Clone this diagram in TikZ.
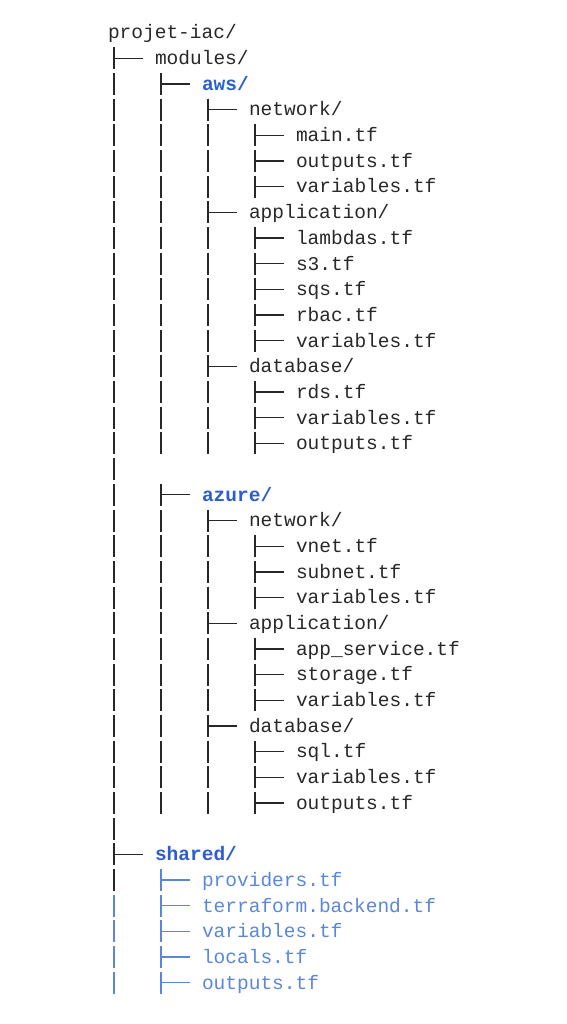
\documentclass[tikz,border=0pt]{standalone}
\usepackage{fontspec}
\setmonofont{Liberation Mono}
\usetikzlibrary{calc}
\definecolor{ink}{RGB}{40,40,40}
\definecolor{dirblue}{RGB}{44,94,205}
\definecolor{fileblue}{RGB}{90,135,218}
\tikzset{
entry/.style={anchor=west, inner sep=0pt, outer sep=0pt, text height=13pt,
	text depth=0.4pt, text=ink, font=\fontsize{19.5pt}{25.68pt}\ttfamily\selectfont},
topdir/.style={entry, text=dirblue,
	font=\fontsize{19.5pt}{25.68pt}\ttfamily\bfseries\selectfont},
sharedfile/.style={entry, text=fileblue},
bar/.style={draw=ink, line width=1.3pt}
}
\newcommand{\treebranch}[3][ink]{%
	\draw[bar, draw=#1] ([xshift=-41pt]#2.west) -- ([xshift=-11.7pt]#2.west);
	\draw[bar, draw=#1, dash pattern=on 22pt off 3.68pt]
		($(#2.west)+(-41pt,11pt)$) -- ($(#2.west |- #3)+(-41pt,-11pt)$);}

\begin{document}
\begin{tikzpicture}[x=1pt, y=-25.68pt]
	\useasboundingbox (0pt,0pt) rectangle (566pt,-1024pt);
	\begin{scope}[yshift=-32.6pt]
	\node[entry] (root) at (108.0,0) {projet-iac/};
	\node[entry] (mods) at (155,1) {modules/};
	\node[topdir] (aws) at (202,2) {aws/};
	\node[entry] (awsnet) at (249,3) {network/};
	\node[entry] (awsmain) at (296,4) {main.tf};
	\node[entry] (awsout) at (296,5) {outputs.tf};
	\node[entry] (awsvar) at (296,6) {variables.tf};
	\node[entry] (awsapp) at (249,7) {application/};
	\node[entry] (awslam) at (296,8) {lambdas.tf};
	\node[entry] (awss3) at (296,9) {s3.tf};
	\node[entry] (awssqs) at (296,10) {sqs.tf};
	\node[entry] (awsrbac) at (296,11) {rbac.tf};
	\node[entry] (awsappvar) at (296,12) {variables.tf};
	\node[entry] (awsdb) at (249,13) {database/};
	\node[entry] (awsrds) at (296,14) {rds.tf};
	\node[entry] (awsdbvar) at (296,15) {variables.tf};
	\node[entry] (awsdbout) at (296,16) {outputs.tf};
	\node[topdir] (azure) at (202,18) {azure/};
	\node[entry] (aznet) at (249,19) {network/};
	\node[entry] (azvnet) at (296,20) {vnet.tf};
	\node[entry] (azsub) at (296,21) {subnet.tf};
	\node[entry] (aznetvar) at (296,22) {variables.tf};
	\node[entry] (azapp) at (249,23) {application/};
	\node[entry] (azsvc) at (296,24) {app\_service.tf};
	\node[entry] (azsto) at (296,25) {storage.tf};
	\node[entry] (azappvar) at (296,26) {variables.tf};
	\node[entry] (azdb) at (249,27) {database/};
	\node[entry] (azsql) at (296,28) {sql.tf};
	\node[entry] (azdbvar) at (296,29) {variables.tf};
	\node[entry] (azdbout) at (296,30) {outputs.tf};
	\coordinate (modsend) at (0,31);
	\node[topdir] (shared) at (155,32) {shared/};
	\node[sharedfile] (prov) at (202,33) {providers.tf};
	\node[sharedfile] (tfb) at (202,34) {terraform.backend.tf};
	\node[sharedfile] (shvar) at (202,35) {variables.tf};
	\node[sharedfile] (shloc) at (202,36) {locals.tf};
	\node[sharedfile] (shout) at (202,37) {outputs.tf};

	\treebranch{mods}{modsend}
	\treebranch{aws}{awsdbout}
	\treebranch{awsnet}{awsvar}
	\treebranch{awsmain}{awsmain}
	\treebranch{awsout}{awsout}
	\treebranch{awsvar}{awsvar}
	\treebranch{awsapp}{awsappvar}
	\treebranch{awslam}{awslam}
	\treebranch{awss3}{awss3}
	\treebranch{awssqs}{awssqs}
	\treebranch{awsrbac}{awsrbac}
	\treebranch{awsappvar}{awsappvar}
	\treebranch{awsdb}{awsdbout}
	\treebranch{awsrds}{awsrds}
	\treebranch{awsdbvar}{awsdbvar}
	\treebranch{awsdbout}{awsdbout}
	\treebranch{azure}{azdbout}
	\treebranch{aznet}{aznetvar}
	\treebranch{azvnet}{azvnet}
	\treebranch{azsub}{azsub}
	\treebranch{aznetvar}{aznetvar}
	\treebranch{azapp}{azappvar}
	\treebranch{azsvc}{azsvc}
	\treebranch{azsto}{azsto}
	\treebranch{azappvar}{azappvar}
	\treebranch{azdb}{azdbout}
	\treebranch{azsql}{azsql}
	\treebranch{azdbvar}{azdbvar}
	\treebranch{azdbout}{azdbout}
	\treebranch{shared}{prov}
	\draw[bar, draw=fileblue, dash pattern=on 22pt off 3.68pt]
		($(shared.west |- tfb)+(-41pt,11pt)$) -- ($(shared.west |- shout)+(-41pt,-11pt)$);
	\treebranch[fileblue]{prov}{prov}
	\treebranch[fileblue]{tfb}{tfb}
	\treebranch[fileblue]{shvar}{shvar}
	\treebranch[fileblue]{shloc}{shloc}
	\treebranch[fileblue]{shout}{shout}
	\end{scope}
\end{tikzpicture}
\end{document}
